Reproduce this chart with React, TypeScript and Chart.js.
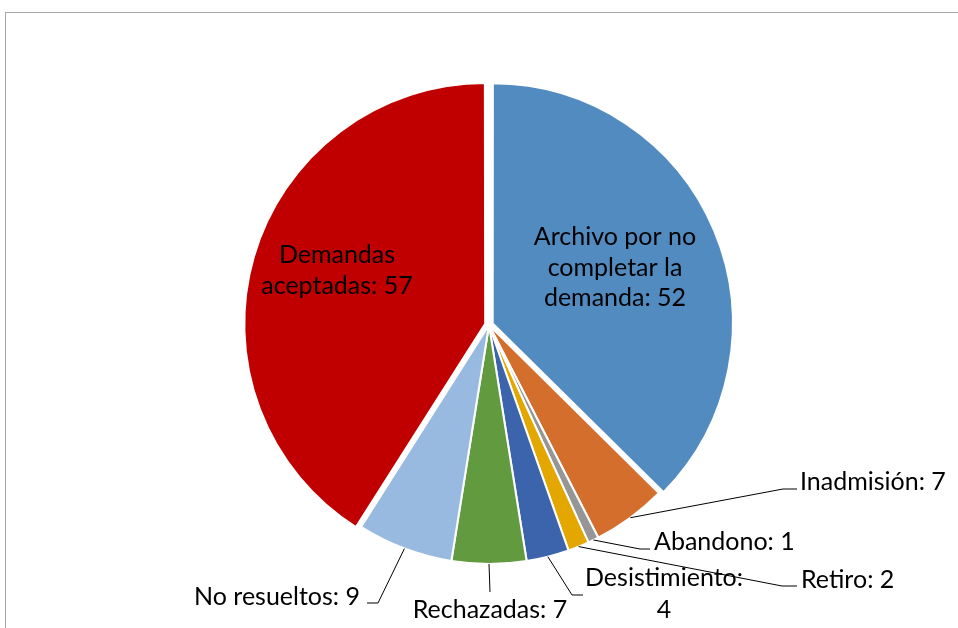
import React, { useEffect, useRef } from "react";
import { Chart, registerables } from "chart.js";

Chart.register(...registerables);

const categories = [
  "Archivo por no completar la demanda",
  "Inadmisión",
  "Abandono",
  "Retiro",
  "Desistimiento",
  "Rechazadas",
  "No resueltos",
  "Demandas aceptadas",
];
const values = [52, 7, 1, 2, 4, 7, 9, 57];
const colors = ["#518BC0", "#D46E2C", "#969696", "#E4A700", "#3B64AD", "#629B3F", "#99BAE0", "#C00000"];
const explode = [16, 0, 0, 0, 0, 0, 0, 16];

// label text lines (built from categories/values)
const labelLines: string[][] = [
  ["Archivo por no", "completar la", "demanda: " + values[0]],
  [categories[1] + ": " + values[1]],
  [categories[2] + ": " + values[2]],
  [categories[3] + ": " + values[3]],
  [categories[4] + ":", String(values[4])],
  [categories[5] + ": " + values[5]],
  [categories[6] + ": " + values[6]],
  ["Demandas", "aceptadas: " + values[7]],
];

type Lay = {
  inside?: boolean;
  x: number;
  y: number;
  align: CanvasTextAlign;
  elbow?: [number, number];
  end?: [number, number];
};
const layout: Lay[] = [
  { inside: true, x: 615, y: 237, align: "center" },
  { x: 800, y: 482, align: "left", elbow: [783, 489], end: [797, 489] },
  { x: 654, y: 542, align: "left", elbow: [640, 549], end: [650, 549] },
  { x: 801, y: 580, align: "left", elbow: [782, 586], end: [797, 586] },
  { x: 664, y: 578, align: "center", elbow: [572, 595], end: [583, 595] },
  { x: 490, y: 610, align: "center", elbow: [490, 592] },
  { x: 360, y: 597, align: "right", elbow: [378, 603], end: [367, 603] },
  { inside: true, x: 337, y: 255, align: "center" },
];

const FONT = "25px Lato";
const LINE_H = 30.5;

const labelPlugin = {
  id: "pieLabels",
  afterDraw(chart: any) {
    const ctx = chart.ctx as CanvasRenderingContext2D;
    const meta = chart.getDatasetMeta(0);
    ctx.save();
    // frame
    ctx.strokeStyle = "#A6A6A6";
    ctx.lineWidth = 1;
    ctx.strokeRect(5.5, 12.5, 1000, 1000);

    ctx.font = FONT;
    ctx.fillStyle = "#000";
    ctx.textBaseline = "middle";
    meta.data.forEach((arc: any, i: number) => {
      const L = layout[i];
      if (!L) return;
      if (!L.inside && L.elbow) {
        const p = arc.getProps(["x", "y", "startAngle", "endAngle", "outerRadius"], true);
        const mid = (p.startAngle + p.endAngle) / 2;
        const sx = p.x + Math.cos(mid) * p.outerRadius;
        const sy = p.y + Math.sin(mid) * p.outerRadius;
        ctx.beginPath();
        ctx.strokeStyle = "#000";
        ctx.lineWidth = 1;
        ctx.moveTo(sx, sy);
        ctx.lineTo(L.elbow[0], L.elbow[1]);
        if (L.end) ctx.lineTo(L.end[0], L.end[1]);
        ctx.stroke();
      }
      ctx.textAlign = L.align;
      labelLines[i].forEach((t, k) => {
        const yy = L.y + k * (i === 4 ? 32 : LINE_H);
        ctx.fillText(t, L.x, yy);
      });
    });
    ctx.restore();
  },
};

export default function App() {
  const ref = useRef<HTMLCanvasElement>(null);
  useEffect(() => {
    document.body.style.margin = "0";
    const chart = new Chart(ref.current!, {
      type: "pie",
      data: {
        labels: categories,
        datasets: [
          {
            data: values,
            backgroundColor: colors,
            borderColor: "#ffffff",
            borderWidth: 2,
            offset: explode,
            radius: 239,
          } as any,
        ],
      },
      options: {
        responsive: false,
        animation: false,
        layout: { padding: { left: 20, top: 22, right: 0, bottom: 0 } },
        plugins: { legend: { display: false }, tooltip: { enabled: false } },
      },
      plugins: [labelPlugin],
    });
    return () => chart.destroy();
  }, []);
  return (
    <div style={{ width: 958, height: 628, background: "#fff" }}>
      <canvas ref={ref} width={958} height={628} />
    </div>
  );
}
